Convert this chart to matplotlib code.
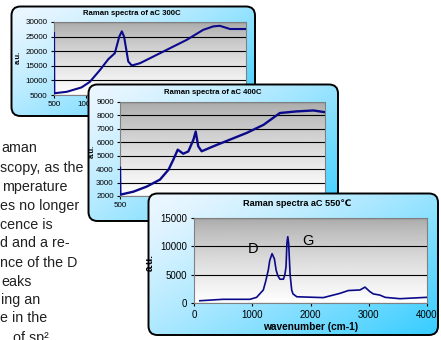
import numpy as np
import matplotlib.pyplot as plt
from matplotlib.patches import FancyBboxPatch

plt.rcParams['font.family'] = ['Liberation Sans', 'DejaVu Sans']

# spectra
x300 = [500, 505, 700, 930, 1060, 1220, 1350, 1450, 1520, 1560, 1595, 1660, 1715, 1845, 2155, 2575, 2830, 2990, 3090, 3250, 3500]
y300 = [26200, 5600, 6100, 7600, 9500, 13600, 17300, 19300, 25000, 26800, 25000, 16500, 15100, 15900, 19300, 23900, 27300, 28500, 28700, 27600, 27600]

x400 = [500, 505, 695, 890, 1085, 1210, 1280, 1345, 1425, 1500, 1575, 1608, 1645, 1695, 1865, 2110, 2355, 2600, 2840, 3085, 3330, 3525]
y400 = [4100, 2100, 2320, 2700, 3220, 3960, 4700, 5450, 5150, 5320, 6200, 6800, 5700, 5330, 5700, 6200, 6700, 7300, 8180, 8300, 8370, 8220]

x550 = [100, 500, 960, 1075, 1190, 1230, 1275, 1300, 1340, 1380, 1410, 1440, 1475, 1535, 1560, 1580, 1595, 1610, 1625, 1650, 1677, 1700, 1765,
        2220, 2505, 2650, 2850, 2935, 3020, 3080, 3190, 3280, 3535, 3995]
y550 = [400, 650, 650, 1000, 2300, 3800, 5800, 7500, 8700, 7800, 5800, 4800, 4200, 4200, 5000, 6400, 10500, 11700, 10500, 5000, 2300, 1600, 1100,
        950, 1700, 2200, 2300, 2800, 2000, 1600, 1400, 1000, 760, 1000]

text_lines = ["aman", "scopy, as the", "mperature", "es no longer", "cence is", "d and a re-",
              "nce of the D", "eaks", "ing an", "e in the", "of sp\u00b2"]

W, H = 441, 340
fig = plt.figure(figsize=(4.41, 3.40), dpi=100)


def frac(x0, y0, x1, y1):
    return [x0 / W, 1 - y1 / H, (x1 - x0) / W, (y1 - y0) / H]


# body text behind the panels
text_x = [1, 0, 2, 0, 0, 0, 0, 1, 1, 0, 13]
text_y = [148, 168, 187, 206, 225, 243, 263, 282, 300, 318, 338]
for tx, ty, s in zip(text_x, text_y, text_lines):
    fig.text(tx / W, 1 - ty / H, s, fontsize=10.3, color='#202020', va='center', ha='left', zorder=0)


def panel(box, plot_box, z):
    x0, y0, x1, y1 = box
    w, h = x1 - x0, y1 - y0
    bg = fig.add_axes(frac(*box), zorder=z)
    bg.set_xlim(0, w)
    bg.set_ylim(h, 0)
    bg.axis('off')
    u, v = np.meshgrid(np.linspace(0, 1, 200), np.linspace(0, 1, 100))
    t = np.clip((0.55 * u + 0.45 * v), 0, 1) ** 1.3
    c0 = np.array([0.93, 0.97, 1.0])
    c1 = np.array([0.2, 0.8, 1.0])
    img = c0 * (1 - t[..., None]) + c1 * t[..., None]
    box_patch = FancyBboxPatch((1.5, 1.5), w - 3.5, h - 3.5, boxstyle='round,pad=0,rounding_size=9',
                               facecolor='none', edgecolor='black', lw=1.4, zorder=3)
    bg.add_patch(box_patch)
    im = bg.imshow(img, extent=[0, w, h, 0], aspect='auto', zorder=1)
    im.set_clip_path(box_patch)

    ax = fig.add_axes(frac(*plot_box), zorder=z + 1)
    s = np.linspace(0, 1, 100)
    grad = (0.66 + 0.34 * s ** 0.75)[:, None]
    ax.imshow(grad, extent=[0, 1, 0, 1], transform=ax.transAxes, aspect='auto',
              cmap='gray', vmin=0, vmax=1, zorder=0)
    ax.set_aspect('auto')
    for sp in ax.spines.values():
        sp.set_color('#808080')
        sp.set_linewidth(0.8)
    ax.yaxis.grid(True, color='black', lw=0.8)
    ax.xaxis.grid(False)
    return ax


# 300C
ax1 = panel((10, 5, 257, 118), (54, 22, 246, 95), 1)
ax1.plot(x300, y300, color='#0a0a8a', lw=1.5, zorder=3)
ax1.set_xlim(500, 3500)
ax1.set_ylim(5000, 30000)
ax1.set_xticks([500, 1000])
ax1.set_yticks(range(5000, 30001, 5000))
ax1.tick_params(labelsize=5.8, length=2.5, pad=2)
ax1.set_ylabel('a.u.', fontsize=5.5, fontweight='bold')
ax1.yaxis.set_label_coords(-0.17, 0.52)
ax1.text(0.406, 1.12, 'Raman spectra of aC 300C', transform=ax1.transAxes, ha='center', va='center',
         fontsize=5.6, fontweight='bold')

# 400C
ax2 = panel((87, 83, 340, 223), (120, 102, 325, 196), 3)
ax2.plot(x400, y400, color='#0a0a8a', lw=1.7, zorder=3)
ax2.set_xlim(500, 3500)
ax2.set_ylim(2000, 9000)
ax2.set_xticks([500])
ax2.set_yticks(range(2000, 9001, 1000))
ax2.tick_params(labelsize=5.8, length=2.5, pad=2)
ax2.set_ylabel('a.u.', fontsize=5.5, fontweight='bold')
ax2.yaxis.set_label_coords(-0.12, 0.47)
ax2.text(0.454, 1.096, 'Raman spectra of aC 400C', transform=ax2.transAxes, ha='center', va='center',
         fontsize=5.6, fontweight='bold')

# 550C
ax3 = panel((147, 192, 440, 337), (194, 218, 427, 303), 5)
ax3.plot(x550, y550, color='#0a0a8a', lw=1.2, zorder=3)
ax3.set_xlim(0, 4000)
ax3.set_ylim(0, 15000)
ax3.set_xticks(range(0, 4001, 1000))
ax3.set_yticks(range(0, 15001, 5000))
ax3.tick_params(labelsize=7, length=2.5, pad=2.5)
ax3.set_ylabel('a.u.', fontsize=7, fontweight='bold')
ax3.yaxis.set_label_coords(-0.167, 0.48)
ax3.text(0.442, 1.165, 'Raman spectra aC 550\u2103', transform=ax3.transAxes, ha='center', va='center',
         fontsize=6.6, fontweight='bold')
ax3.text(0.5, -0.28, 'wavenumber (cm-1)', transform=ax3.transAxes, ha='center', va='center',
         fontsize=7.3, fontweight='bold')
ax3.text(1013, 9520, 'D', fontsize=10.5, ha='center', va='center', zorder=4)
ax3.text(1957, 10930, 'G', fontsize=10.5, ha='center', va='center', zorder=4)

fig.savefig('out.png', dpi=100)
